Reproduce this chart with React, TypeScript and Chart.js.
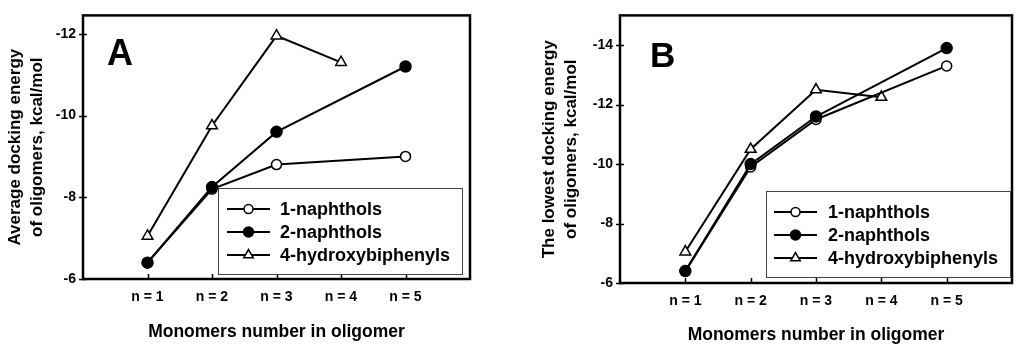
import React, { useEffect, useRef } from 'react';
import { Chart, registerables } from 'chart.js';

Chart.register(...registerables);

// ---------- data ----------
const monomerNumbers = [1, 2, 3, 4, 5];
const xTickLabels = ['n = 1', 'n = 2', 'n = 3', 'n = 4', 'n = 5'];
const seriesNames = ['1-naphthols', '2-naphthols', '4-hydroxybiphenyls'];

// Panel A: average docking energy (kcal/mol)
const avgNaphthol1 = [-6.4, -8.2, -8.8, null, -9.0];
const avgNaphthol2 = [-6.4, -8.25, -9.6, null, -11.2];
const avgHydroxybiphenyl = [-7.05, -9.75, -11.95, -11.3, null];

// Panel B: lowest docking energy (kcal/mol)
const lowNaphthol1 = [-6.4, -9.9, -11.5, null, -13.3];
const lowNaphthol2 = [-6.4, -10.0, -11.6, null, -13.9];
const lowHydroxybiphenyl = [-7.05, -10.5, -12.5, -12.25, null];

const yTicksA = [-6, -8, -10, -12];
const yTicksB = [-6, -8, -10, -12, -14];

const xTitle = 'Monomers number in oligomer';
const yTitleA = ['Average docking energy', 'of oligomers, kcal/mol'];
const yTitleB = ['The lowest docking energy', 'of oligomers, kcal/mol'];

// ---------- styling ----------
const FONT = "'Liberation Sans', Arial, Helvetica, sans-serif";
const markerStyles = [
  { pointStyle: 'circle', radius: 5, fill: '#ffffff', legendR: 4.5 },
  { pointStyle: 'circle', radius: 5.5, fill: '#000000', legendR: 5 },
  { pointStyle: 'triangle', radius: 6.2, fill: '#ffffff', legendR: 5.5 },
];
const drawOrder = [1, 0, 2];

type PanelCfg = {
  letter: string;
  letterX: number;
  letterY: number;
  letterSize: number;
  yTitle: string[];
  yMin: number;
  yTicks: number[];
  series: (number | null)[][];
  padLeft: number;
  padTop: number;
  padRight: number;
  yWidth: number;
  xHeight: number;
  xTitlePad: number;
  legend: { left: number; top: number; right: number; bottom: number; rows: number[]; lineX1: number; lineX2: number; textX: number };
};

const panelA: PanelCfg = {
  letter: 'A', letterX: 107, letterY: 65, letterSize: 36,
  yTitle: yTitleA, yMin: -12.45, yTicks: yTicksA,
  series: [avgNaphthol1, avgNaphthol2, avgHydroxybiphenyl],
  padLeft: 0, padTop: 12, padRight: 42, yWidth: 83, xHeight: 73, xTitlePad: 9,
  legend: { left: 218, top: 188, right: 462, bottom: 274, rows: [209, 232, 255], lineX1: 227, lineX2: 270, textX: 280 },
};

const panelB: PanelCfg = {
  letter: 'B', letterX: 138, letterY: 67, letterSize: 35,
  yTitle: yTitleB, yMin: -15, yTicks: yTicksB,
  series: [lowNaphthol1, lowNaphthol2, lowHydroxybiphenyl],
  padLeft: 22, padTop: 6, padRight: 12, yWidth: 86, xHeight: 69, xTitlePad: 6,
  legend: { left: 254, top: 191, right: 498, bottom: 277, rows: [212, 235, 258], lineX1: 262, lineX2: 305, textX: 316 },
};

function drawMarker(ctx: CanvasRenderingContext2D, idx: number, x: number, y: number, r: number) {
  const m = markerStyles[idx];
  ctx.save();
  ctx.lineWidth = 1.5;
  ctx.strokeStyle = '#000';
  ctx.fillStyle = m.fill;
  ctx.beginPath();
  if (m.pointStyle === 'triangle') {
    const h = r * 1.5;
    const w = r * Math.sqrt(3);
    ctx.moveTo(x, y - r);
    ctx.lineTo(x + w / 2, y - r + h);
    ctx.lineTo(x - w / 2, y - r + h);
    ctx.closePath();
  } else {
    ctx.arc(x, y, r, 0, Math.PI * 2);
  }
  ctx.fill();
  ctx.stroke();
  ctx.restore();
}

function makeDecorPlugin(cfg: PanelCfg) {
  return {
    id: 'decor' + cfg.letter,
    afterDraw(chart: any) {
      const ctx: CanvasRenderingContext2D = chart.ctx;
      const { left, right, top, bottom } = chart.chartArea;
      const xs = chart.scales.x;
      const ys = chart.scales.y;
      ctx.save();
      // frame
      ctx.strokeStyle = '#000';
      ctx.lineWidth = 2.5;
      ctx.strokeRect(left, top, right - left, bottom - top);
      // tick marks
      ctx.lineWidth = 1.5;
      ctx.beginPath();
      for (const v of cfg.yTicks) {
        const py = Math.round(ys.getPixelForValue(v)) + 0.5;
        ctx.moveTo(left - 4, py);
        ctx.lineTo(left + 4, py);
      }
      for (const v of monomerNumbers) {
        const px = Math.round(xs.getPixelForValue(v)) + 0.5;
        ctx.moveTo(px, bottom);
        ctx.lineTo(px, bottom - 5);
      }
      ctx.stroke();
      // panel letter
      ctx.fillStyle = '#000';
      ctx.font = `bold ${cfg.letterSize}px ${FONT}`;
      ctx.textBaseline = 'alphabetic';
      ctx.textAlign = 'left';
      ctx.fillText(cfg.letter, cfg.letterX, cfg.letterY);
      // legend box
      const L = cfg.legend;
      ctx.fillStyle = '#fff';
      ctx.fillRect(L.left, L.top, L.right - L.left, L.bottom - L.top);
      ctx.strokeStyle = '#444';
      ctx.lineWidth = 1;
      ctx.strokeRect(L.left + 0.5, L.top + 0.5, L.right - L.left, L.bottom - L.top);
      ctx.font = `bold 18px ${FONT}`;
      ctx.textBaseline = 'middle';
      seriesNames.forEach((name, i) => {
        const y = L.rows[i];
        ctx.strokeStyle = '#000';
        ctx.lineWidth = 2;
        ctx.beginPath();
        ctx.moveTo(L.lineX1, y);
        ctx.lineTo(L.lineX2, y);
        ctx.stroke();
        drawMarker(ctx, i, (L.lineX1 + L.lineX2) / 2, y, markerStyles[i].legendR);
        ctx.fillStyle = '#000';
        ctx.fillText(name, L.textX, y + 1);
      });
      ctx.restore();
    },
  };
}

function Panel({ cfg, left }: { cfg: PanelCfg; left: number }) {
  const ref = useRef<HTMLCanvasElement | null>(null);
  useEffect(() => {
    if (!ref.current) return;
    const datasets = cfg.series.map((vals, i) => ({
      label: seriesNames[i],
      data: monomerNumbers
        .map((n, j) => ({ x: n, y: vals[j] }))
        .filter((p) => p.y !== null),
      borderColor: '#000',
      borderWidth: 2,
      backgroundColor: markerStyles[i].fill,
      pointStyle: markerStyles[i].pointStyle,
      pointRadius: markerStyles[i].radius,
      pointBorderWidth: 1.5,
      pointBorderColor: '#000',
      pointBackgroundColor: markerStyles[i].fill,
      tension: 0,
      fill: false,
      clip: false as any,
      order: drawOrder[i],
    }));
    const chart = new Chart(ref.current, {
      type: 'line',
      data: { datasets },
      options: {
        animation: false,
        responsive: false,
        devicePixelRatio: 1,
        layout: { padding: { left: cfg.padLeft, top: cfg.padTop, right: cfg.padRight, bottom: 0 } },
        plugins: { legend: { display: false }, tooltip: { enabled: false } },
        scales: {
          x: {
            type: 'linear',
            min: 0,
            max: 6,
            grid: { display: false, drawTicks: false, tickLength: 0 },
            border: { display: false },
            afterBuildTicks: (s: any) => {
              s.ticks = monomerNumbers.map((v) => ({ value: v }));
            },
            afterFit: (s: any) => {
              s.height = cfg.xHeight;
            },
            ticks: {
              autoSkip: false,
              maxRotation: 0,
              padding: 10,
              color: '#000',
              font: { family: FONT, size: 14, weight: 'bold' },
              callback: (v: any) => xTickLabels[monomerNumbers.indexOf(Number(v))] ?? '',
            },
            title: {
              display: true,
              text: xTitle,
              color: '#000',
              font: { family: FONT, size: 17.5, weight: 'bold', lineHeight: 1.2 },
              padding: { top: 0, bottom: cfg.xTitlePad },
            },
          },
          y: {
            type: 'linear',
            min: cfg.yMin,
            max: -6,
            reverse: true,
            grid: { display: false, drawTicks: false, tickLength: 0 },
            border: { display: false },
            afterBuildTicks: (s: any) => {
              s.ticks = cfg.yTicks.map((v) => ({ value: v }));
            },
            afterFit: (s: any) => {
              s.width = cfg.yWidth;
            },
            ticks: {
              padding: 7,
              color: '#000',
              font: { family: FONT, size: 14, weight: 'bold' },
              callback: (v: any) => String(v),
            },
            title: {
              display: true,
              text: cfg.yTitle,
              color: '#000',
              font: { family: FONT, size: 17, weight: 'bold', lineHeight: 1.3 },
              padding: { top: 4, bottom: 0 },
            },
          },
        },
      } as any,
      plugins: [makeDecorPlugin(cfg)],
    });
    return () => chart.destroy();
  }, [cfg]);
  return (
    <canvas
      ref={ref}
      width={512}
      height={352}
      style={{ position: 'absolute', left, top: 0, width: 512, height: 352 }}
    />
  );
}

export default function App() {
  return (
    <div style={{ position: 'fixed', left: 0, top: 0, width: 1024, height: 352, background: '#fff', overflow: 'hidden' }}>
      <Panel cfg={panelA} left={0} />
      <Panel cfg={panelB} left={512} />
    </div>
  );
}
